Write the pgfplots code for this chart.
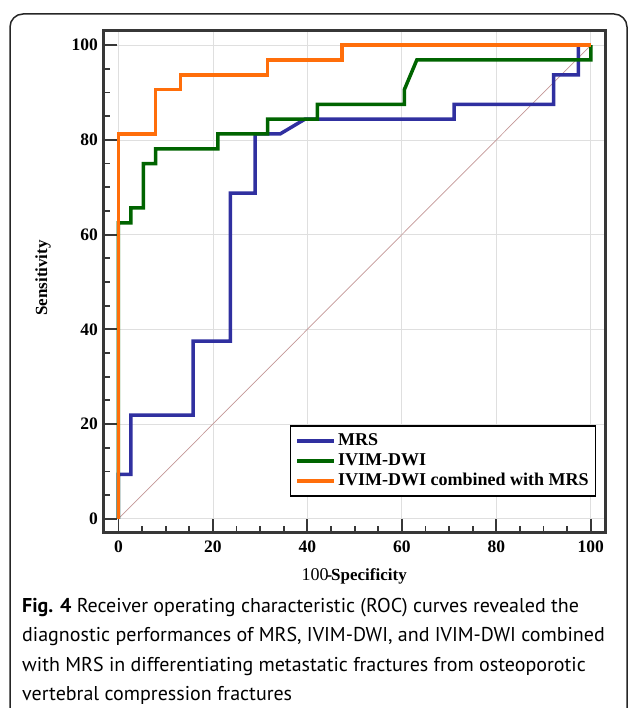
\documentclass[border=0pt]{standalone}
\usepackage{fontspec}
\setmainfont{Liberation Serif}
\newfontfamily\capfont{PT Sans}
\usepackage{pgfplots}
\pgfplotsset{compat=1.18}
\definecolor{mrs}{RGB}{48,48,160}
\definecolor{ivim}{RGB}{0,100,0}
\definecolor{comb}{RGB}{255,110,10}
\definecolor{framegray}{RGB}{55,55,55}
\definecolor{diagc}{RGB}{195,150,150}
\begin{document}
\begin{tikzpicture}[x=1pt,y=1pt]
\useasboundingbox (0pt,0pt) rectangle (628pt,708pt);
\draw[line width=1.5pt, rounded corners=13pt, black!85] (10pt,-20pt) -- (10pt,694pt) -- (627pt,694pt) -- (627pt,-20pt);
\begin{axis}[
  at={(103.3pt,175pt)}, anchor=south west,
  scale only axis, width=501.7pt, height=502pt,
  xmin=-3.2, xmax=103, ymin=-3, ymax=103,
  xtick={0,20,...,100}, ytick={0,20,...,100},
  minor tick num=3,
  tick pos=left, tick align=inside,
  major tick length=14pt, minor tick length=7pt,
  tick style={framegray, line width=1.8pt},
  axis line style={framegray, line width=3pt},
  grid=major, major grid style={gray!25, line width=0.8pt},
  ticklabel style={font=\bfseries\fontsize{17.5}{17.5}\selectfont},
  yticklabel style={xshift=-2pt},
  xticklabel style={yshift=-4.5pt},
  /pgf/number format/assume math mode=true,
  xlabel={{\mdseries\fontsize{18}{18}\selectfont 100}\kern-2pt-\kern-1pt Specificity},
  ylabel={Sensitivity},
  label style={font=\bfseries\fontsize{17}{17}\selectfont},
  xlabel style={at={(axis description cs:0.5,-0.0857)}, anchor=center},
  ylabel style={at={(axis description cs:-0.12,0.508)}, anchor=center, rotate=0},
  legend style={at={(axis description cs:0.372,0.215)}, anchor=north west,
    draw=black, line width=1.5pt, font=\bfseries\fontsize{18}{20}\selectfont,
    cells={anchor=west}, inner xsep=5pt, inner ysep=5pt, row sep=0pt,
    nodes={text height=13pt, text depth=4pt, inner ysep=1.5pt}},
  legend image code/.code={\draw[#1, line width=3pt] (0pt,0pt) -- (29pt,0pt); \path (0pt,0pt) -- (37pt,0pt);},
]
\addplot[diagc, line width=0.7pt, forget plot] coordinates {(0,0) (100,100)};
\addplot[mrs, line width=3.5pt] coordinates {
(0,0)(0,9.375)(2.63,9.375)(2.63,21.875)(15.79,21.875)(15.79,37.5)(23.68,37.5)(23.68,68.75)(28.95,68.75)(28.95,81.25)(34.21,81.25)(39.47,84.375)(71.05,84.375)(71.05,87.5)(92.11,87.5)(92.11,93.75)(97.37,93.75)(97.37,100)(100,100)};
\addlegendentry{MRS}
\addplot[ivim, line width=3.5pt] coordinates {
(0,0)(0,62.5)(2.63,62.5)(2.63,65.625)(5.26,65.625)(5.26,75)(7.89,75)(7.89,78.125)(21.05,78.125)(21.05,81.25)(31.58,81.25)(31.58,84.375)(42.11,84.375)(42.11,87.5)(60.53,87.5)(60.53,90.625)(63.16,96.875)(100,96.875)(100,100)};
\addlegendentry{IVIM-DWI}
\addplot[comb, line width=3.5pt] coordinates {
(0,0)(0,81.25)(7.89,81.25)(7.89,90.625)(13.16,90.625)(13.16,93.75)(31.58,93.75)(31.58,96.875)(47.37,96.875)(47.37,100)(100,100)};
\addlegendentry{IVIM-DWI combined with MRS}
\end{axis}
\begin{scope}[every node/.style={anchor=base west, inner sep=0pt, font=\capfont\fontsize{20}{24}\selectfont}]
\node at (22pt,95pt) {\textbf{Fig. 4} Receiver operating characteristic (ROC) curves revealed the};
\node at (22pt,66pt) {diagnostic performances of MRS, IVIM-DWI, and IVIM-DWI combined};
\node at (22pt,36.5pt) {with MRS in differentiating metastatic fractures from osteoporotic};
\node at (22pt,7pt) {vertebral compression fractures};
\end{scope}
\end{tikzpicture}
\end{document}
